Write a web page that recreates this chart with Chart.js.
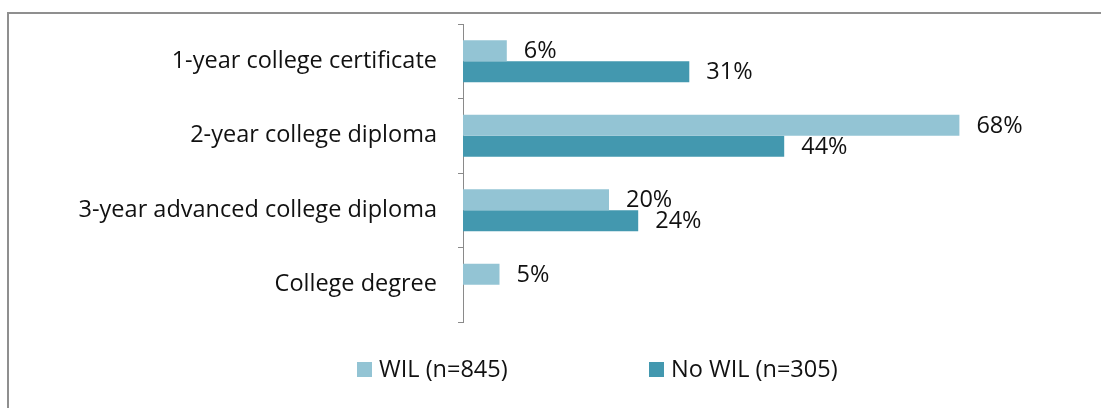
<!DOCTYPE html>
<html>
<head>
<meta charset="utf-8">
<script src="https://cdn.jsdelivr.net/npm/chart.js@4.4.0/dist/chart.umd.min.js"></script>
<style>
  html, body { margin: 0; padding: 0; background: #fff; overflow: hidden; }
  #wrap { position: relative; width: 1101px; height: 408px; overflow: hidden; }
  #frame { position: absolute; left: 7px; top: 12px; width: 2000px; height: 2000px;
           border-left: 2px solid #8f8f8f; border-top: 2px solid #8f8f8f; }
  canvas { position: absolute; left: 0; top: 0; }
</style>
</head>
<body>
<div id="wrap">
  <div id="frame"></div>
  <canvas id="c" width="1101" height="408"></canvas>
</div>
<script>
const categories = ['1-year college certificate', '2-year college diploma', '3-year advanced college diploma', 'College degree'];
const seriesLabels = ['WIL (n=845)', 'No WIL (n=305)'];
const wilValues = [6, 68, 20, 5];
const noWilValues = [31, 44, 24, null];
const seriesColors = ['#93C4D4', '#4398AF'];

const FONT = '"Open Sans", "DejaVu Sans", sans-serif';
const FONT_SIZE = 23.5;

const valueLabels = {
  id: 'valueLabels',
  afterDatasetsDraw(chart) {
    const ctx = chart.ctx;
    ctx.save();
    ctx.font = FONT_SIZE + 'px ' + FONT;
    ctx.fillStyle = '#111';
    ctx.textAlign = 'left';
    ctx.textBaseline = 'middle';
    chart.data.datasets.forEach((ds, i) => {
      const meta = chart.getDatasetMeta(i);
      meta.data.forEach((el, j) => {
        const v = ds.data[j];
        if (v === null || v === undefined) return;
        ctx.fillText(v + '%', el.x + 17, el.y + 1);
      });
    });
    ctx.restore();
  }
};

const customLegend = {
  id: 'customLegend',
  afterDraw(chart) {
    const ctx = chart.ctx;
    const xs = [357, 649];
    const yc = 369;
    ctx.save();
    ctx.font = FONT_SIZE + 'px ' + FONT;
    ctx.textAlign = 'left';
    ctx.textBaseline = 'middle';
    chart.data.datasets.forEach((ds, i) => {
      ctx.fillStyle = ds.backgroundColor;
      ctx.fillRect(xs[i], yc - 7, 15, 15);
      ctx.fillStyle = '#111';
      ctx.fillText(ds.label, xs[i] + 22, yc + 1);
    });
    ctx.restore();
  }
};

new Chart(document.getElementById('c'), {
  type: 'bar',
  data: {
    labels: categories,
    datasets: [
      { label: seriesLabels[0], data: wilValues, backgroundColor: seriesColors[0] },
      { label: seriesLabels[1], data: noWilValues, backgroundColor: seriesColors[1] }
    ]
  },
  options: {
    indexAxis: 'y',
    responsive: false,
    animation: false,
    categoryPercentage: 0.564,
    barPercentage: 1.0,
    layout: { padding: { top: 24, bottom: 86, right: 54, left: 0 } },
    plugins: {
      legend: { display: false },
      tooltip: { enabled: false }
    },
    scales: {
      x: { display: false, min: 0, max: 80 },
      y: {
        afterFit(scale) { scale.width = 463; scale.paddingTop = 0; scale.paddingBottom = 0; },
        grid: { drawOnChartArea: false, drawTicks: true, tickLength: 5, color: '#8a8a8a', offset: true },
        border: { display: true, color: '#8a8a8a', width: 1 },
        ticks: { color: '#111', padding: 21, font: { family: FONT, size: FONT_SIZE } }
      }
    }
  },
  plugins: [valueLabels, customLegend]
});
</script>
</body>
</html>
